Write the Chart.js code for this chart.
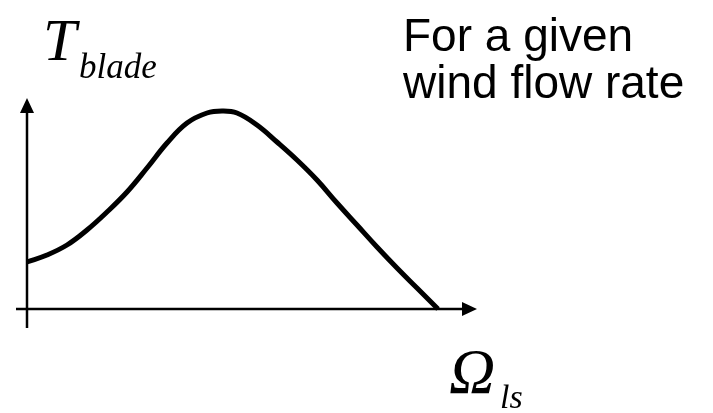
<!DOCTYPE html>
<html>
<head>
<meta charset="utf-8">
<script src="https://cdn.jsdelivr.net/npm/chart.js@4/dist/chart.umd.min.js"></script>
<style>
  html, body { margin: 0; padding: 0; background: #fff; }
  #wrap { width: 713px; height: 413px; position: relative; }
</style>
</head>
<body>
<div id="wrap"><canvas id="myChart" width="713" height="413"></canvas></div>
<script>
// blade torque vs. low-speed shaft speed, arbitrary units
const omega = [0, 20, 40, 60, 80, 100, 120, 140, 160, 180, 195, 210, 230, 250, 270, 290, 310, 330, 350, 370, 390, 411];
const torque = [47, 54, 64, 79, 97, 117, 141, 166, 186, 196, 198, 196, 184, 167, 149, 129, 106, 84, 62, 41, 21, 0];

// axis extents (same units as the data)
const xAxisFrom = -11, xAxisTo = 450;
const yAxisFrom = -19, yAxisTo = 211;

const points = omega.map((x, i) => ({ x: x, y: torque[i] }));

const sketchAxes = {
  id: "sketchAxes",
  beforeDatasetsDraw(chart) {
    const ctx = chart.ctx;
    const xs = chart.scales.x, ys = chart.scales.y;
    const x0 = xs.getPixelForValue(0), y0 = ys.getPixelForValue(0);
    ctx.save();
    ctx.strokeStyle = "#000";
    ctx.fillStyle = "#000";
    ctx.lineWidth = 2.5;
    // horizontal axis
    const xEnd = xs.getPixelForValue(xAxisTo);
    ctx.beginPath();
    ctx.moveTo(xs.getPixelForValue(xAxisFrom), y0);
    ctx.lineTo(xEnd - 10, y0);
    ctx.stroke();
    ctx.beginPath();
    ctx.moveTo(xEnd, y0);
    ctx.lineTo(xEnd - 15, y0 - 7);
    ctx.lineTo(xEnd - 15, y0 + 7);
    ctx.closePath();
    ctx.fill();
    // vertical axis
    const yEnd = ys.getPixelForValue(yAxisTo);
    ctx.beginPath();
    ctx.moveTo(x0, ys.getPixelForValue(yAxisFrom));
    ctx.lineTo(x0, yEnd + 10);
    ctx.stroke();
    ctx.beginPath();
    ctx.moveTo(x0, yEnd);
    ctx.lineTo(x0 - 7, yEnd + 15);
    ctx.lineTo(x0 + 7, yEnd + 15);
    ctx.closePath();
    ctx.fill();
    ctx.restore();
  },
  afterDraw(chart) {
    const ctx = chart.ctx;
    ctx.save();
    ctx.fillStyle = "#000";
    ctx.textBaseline = "alphabetic";
    ctx.textAlign = "left";
    // axis names
    ctx.font = "italic 60px 'Liberation Serif', 'Times New Roman', serif";
    ctx.fillText("T", 43, 60);
    ctx.font = "italic 35px 'Liberation Serif', 'Times New Roman', serif";
    ctx.fillText("blade", 79, 78);
    ctx.font = "italic 64px 'Liberation Serif', 'Times New Roman', serif";
    ctx.fillText("\u03A9", 449, 393);
    ctx.font = "italic 34px 'Liberation Serif', 'Times New Roman', serif";
    ctx.fillText("ls", 500, 408);
    // note
    ctx.font = "46px 'Liberation Sans', Arial, sans-serif";
    ctx.fillText("For a given", 403, 51);
    ctx.fillText("wind flow rate", 403, 98);
    ctx.restore();
  }
};

new Chart(document.getElementById("myChart"), {
  type: "line",
  data: {
    datasets: [{
      data: points,
      borderColor: "#000",
      borderWidth: 5,
      pointRadius: 0,
      fill: false,
      tension: 0.4,
      borderCapStyle: "butt"
    }]
  },
  options: {
    responsive: false,
    animation: false,
    layout: { padding: 0 },
    plugins: { legend: { display: false }, tooltip: { enabled: false } },
    scales: {
      x: { type: "linear", min: -27, max: 686, display: false },
      y: { type: "linear", min: -104, max: 309, display: false }
    }
  },
  plugins: [sketchAxes]
});
</script>
</body>
</html>
